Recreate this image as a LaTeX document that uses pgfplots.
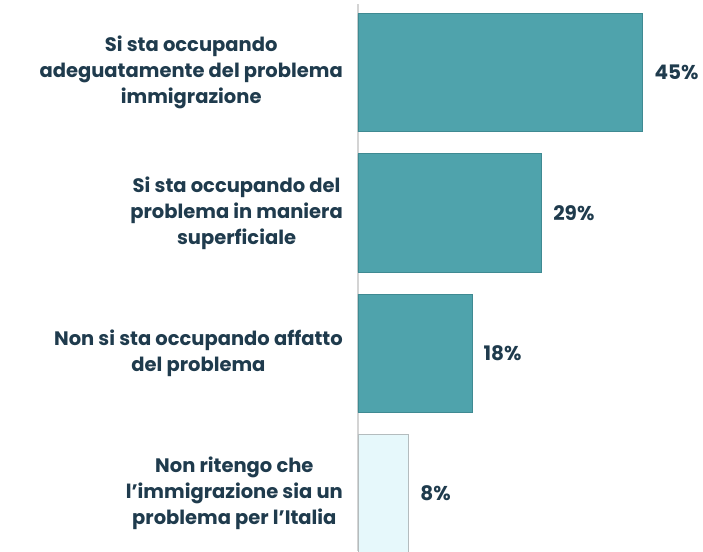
\documentclass[border=0pt]{standalone}
\usepackage{pgfplots}
\pgfplotsset{compat=1.18}
\usepackage{fontspec}
\setmainfont{Poppins}
\definecolor{txt}{HTML}{1F3B4D}
\definecolor{teal1}{HTML}{4FA3AC}
\definecolor{tealb}{HTML}{3F8A92}
\definecolor{light1}{HTML}{E6F8FB}
\definecolor{lightb}{HTML}{B4BCBE}
\definecolor{axgray}{HTML}{D4D4D4}
\begin{document}
\begin{tikzpicture}
\begin{axis}[
  scale only axis,
  width=345pt, height=547pt,
  xbar, bar shift=0pt,
  xmin=0, xmax=54.5,
  ymin=-0.49, ymax=3.41,
  y dir=reverse,
  bar width=0.843,
  axis x line=none,
  axis y line=left,
  y axis line style={-, draw=axgray, line width=1.6pt},
  ytick={0,1,2,3},
  major tick length=0pt,
  /pgf/number format/assume math mode=true,
  yticklabels={{Si sta occupando\\adeguatamente del problema\\immigrazione},
               {Si sta occupando del\\problema in maniera\\superficiale},
               {Non si sta occupando affatto\\del problema},
               {Non ritengo che\\l’immigrazione sia un\\problema per l’Italia}},
  yticklabel style={align=center, font=\fontsize{19.5}{26}\selectfont\bfseries, text=txt, inner sep=0pt, xshift=-15pt},
  nodes near coords={\pgfmathprintnumber{\pgfplotspointmeta}\%},
  nodes near coords style={font=\fontsize{20}{22}\selectfont\bfseries, text=txt, anchor=west, xshift=8pt},
]
\addplot[fill=teal1, draw=tealb, line width=0.8pt] coordinates {(45,0) (29,1) (18,2)};
\addplot[fill=light1, draw=lightb, line width=0.8pt] coordinates {(8,3)};
\end{axis}
\pgfresetboundingbox
\path ([xshift=-358pt]current axis.south west) rectangle ([yshift=4pt]current axis.north east);
\end{tikzpicture}
\end{document}
